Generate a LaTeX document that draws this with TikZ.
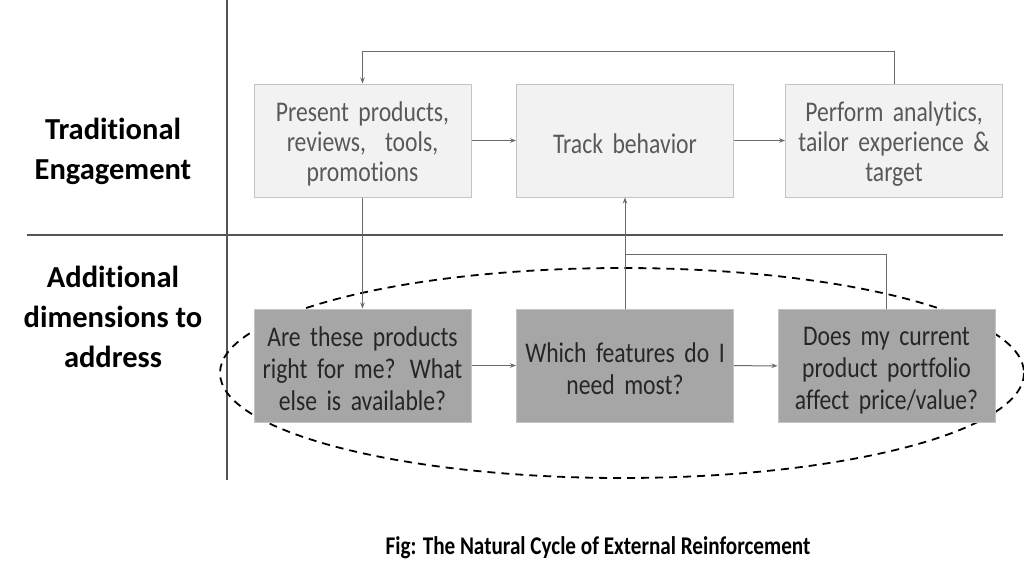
\documentclass[tikz,border=0pt]{standalone}
\usepackage{fontspec}
\setmainfont{Carlito}[Ligatures=NoCommon]
\newfontfamily\narrowfont{Carlito}[FakeStretch=0.83, WordSpace=0.85, Ligatures=NoCommon]
\newfontfamily\capfont{Carlito}[FakeStretch=0.83, Ligatures=NoCommon]
\usetikzlibrary{arrows.meta}
\definecolor{topfill}{HTML}{F2F2F2}
\definecolor{botfill}{HTML}{A6A6A6}
\definecolor{boxedge}{HTML}{C4C4C4}
\definecolor{toptext}{HTML}{595959}
\definecolor{bottext}{HTML}{262626}
\definecolor{linecol}{HTML}{6A6A6A}
\definecolor{divcol}{HTML}{555555}
\begin{document}
\begin{tikzpicture}[x=1pt,y=-1pt,
  topbox/.style={draw=boxedge, line width=1pt, fill=topfill, minimum width=217pt, minimum height=113pt,
    text width=214pt, align=center, inner sep=0pt, text=toptext, font=\narrowfont\fontsize{28.5}{30}\selectfont,
    execute at begin node={\rule{0pt}{27pt}}},
  botbox/.style={topbox, fill=botfill, text=bottext, font=\narrowfont\fontsize{28.5}{32}\selectfont},
  conn/.style={draw=linecol, line width=1pt, -{Stealth[length=6pt,width=4.5pt]}},
  plain/.style={draw=linecol, line width=1pt},
  divider/.style={draw=divcol, line width=1.2pt},
  lab/.style={align=center, font=\bfseries\fontsize{30.5}{40}\selectfont, text=black},
  captext/.style={font=\capfont\bfseries\fontsize{25.5}{28}\selectfont, text=black}]
\useasboundingbox (0,0) rectangle (1024,573);
\fill[white] (0,0) rectangle (1024,573);
% dividers
\draw[divider] (227,0) -- (227,480);
\draw[divider] (27,235) -- (1003,235);
% dashed ellipse
\draw[black, line width=1.8pt, dash pattern=on 8pt off 6pt] (622,373) ellipse [x radius=402, y radius=105];
% boxes
\node[topbox] (p1) at (362.5,140.5) {Present products,\\reviews,\ \ tools,\\promotions};
\node[topbox] (p2) at (625,140.5) {Track behavior};
\node[topbox] (p3) at (894,140.5) {Perform analytics,\\tailor experience \&\\target};
\node[botbox] (q1) at (362.5,365.5) {Are these products\\right for me? What\\else is available?};
\node[botbox] (q2) at (625,365.5) {Which features do I\\need most?};
\node[botbox] (q3) at (886.5,366) {Does my current\\product portfolio\\affect price/value?};
% connectors
\draw[conn] (p1) -- (p2);
\draw[conn] (p2) -- (p3);
\draw[conn] (p3.north) -- ++(0,-32) -| (p1.north);
\draw[conn] (p1.south) -- (q1.north);
\draw[conn] (q1) -- (q2);
\draw[conn] (q2) -- (q3);
\draw[conn] (q2.north) -- (p2.south);
\coordinate (j) at (625,254);
\draw[plain] (j) -| (q3.north);
% labels
\node[lab] (t1) at (113,151) {Traditional\\Engagement};
\node[lab] (t2) at (113,317) {Additional\\dimensions to\\address};
\node[captext] (c) at (598,548) {Fig: The Natural Cycle of External Reinforcement};
\end{tikzpicture}
\end{document}
